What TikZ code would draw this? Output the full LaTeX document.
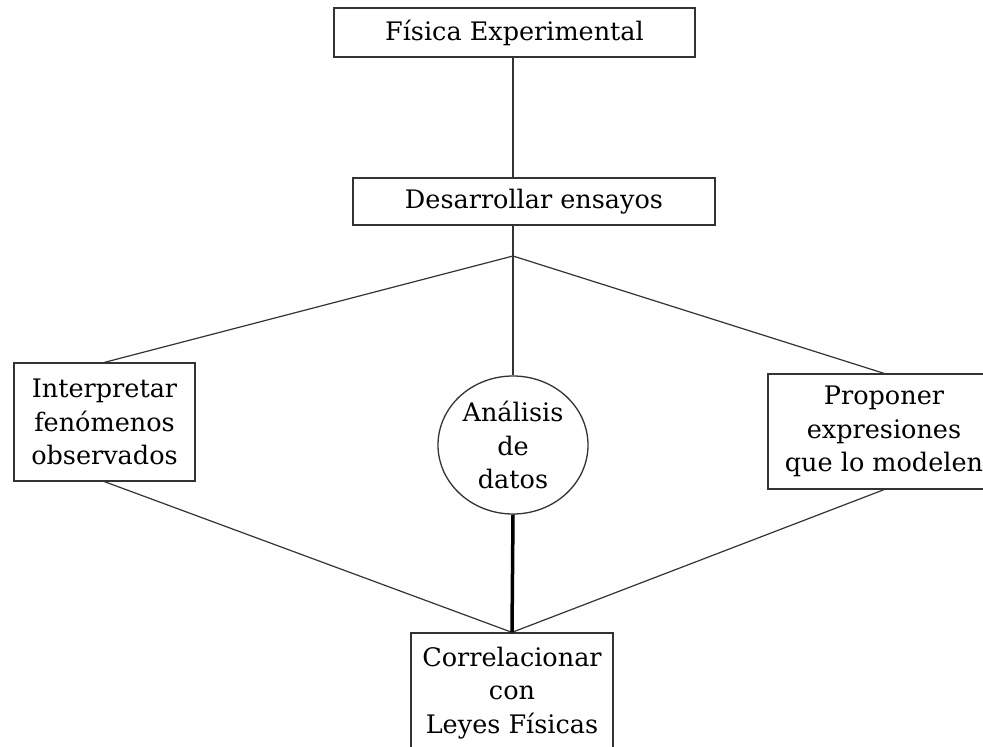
\documentclass[tikz,border=0pt]{standalone}
\usepackage{fontspec}
\setmainfont{DejaVu Serif}
\usetikzlibrary{shapes.geometric}
\tikzset{
  box/.style={draw=black!80, line width=1.3pt, fill=white, align=center, inner sep=0pt,
    font=\fontsize{25.5}{33.5}\selectfont},
  conn/.style={draw=black!80, line width=1.2pt},
  thickconn/.style={draw=black, line width=3.5pt},
}
\begin{document}
\begin{tikzpicture}[x=1pt,y=-1pt]
\useasboundingbox (0,0) rectangle (983,747);
\clip (0,0) rectangle (983,747);
\fill[white] (0,0) rectangle (983,747);
\node[box, minimum width=361pt, minimum height=49pt] (top) at (514.5,32.5) {Física Experimental};
\node[box, minimum width=362pt, minimum height=47pt] (mid) at (534,201.5) {Desarrollar ensayos};
\coordinate (j) at (513,256);
\node[box, minimum width=181pt, minimum height=118pt] (left) at (104.5,422) {Interpretar\\fenómenos\\observados};
\node[box, minimum width=232pt, minimum height=115pt] (right) at (884,431.5) {Proponer\\expresiones\\que lo modelen};
\node[box, ellipse, minimum width=150pt, minimum height=138pt] (circ) at (513,445) {Análisis\\de\\datos};
\node[box, minimum width=202pt, minimum height=120pt] (bot) at (512,693) {Correlacionar\\con\\Leyes Físicas};
\draw[conn] (top.south -| j) -- (mid.north -| j);
\draw[conn] (mid.south -| j) -- (j);
\draw[conn] (j) -- (left.north);
\draw[conn] (j) -- (right.north);
\draw[conn] (j) -- (circ.north);
\draw[conn] (left.south) -- (bot.north);
\draw[conn] (right.south) -- (bot.north);
\draw[thickconn] (circ.south) -- (bot.north);
\end{tikzpicture}
\end{document}
